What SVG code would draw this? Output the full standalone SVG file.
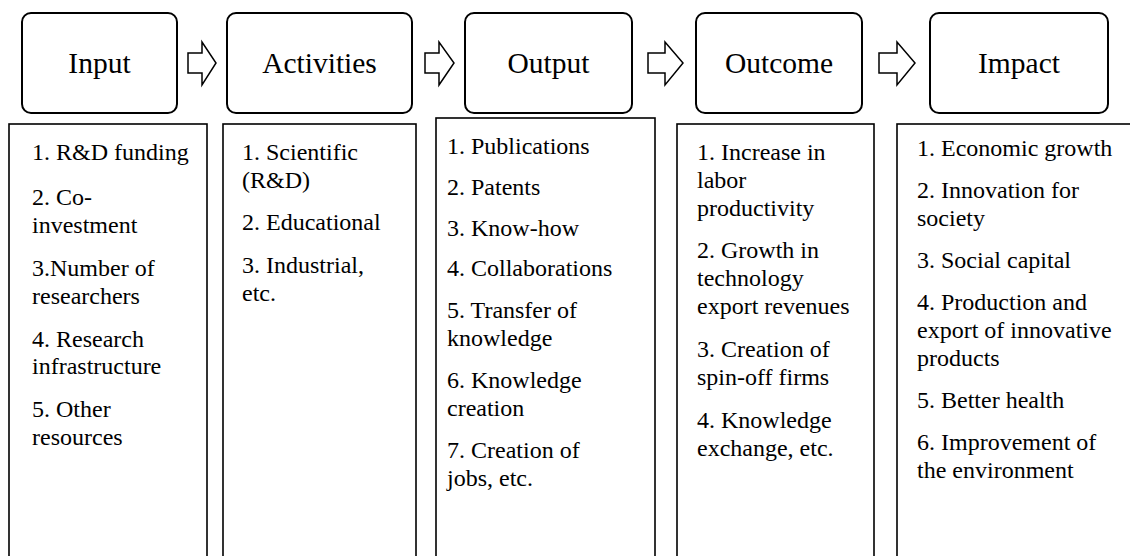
<svg xmlns="http://www.w3.org/2000/svg" width="1130" height="556" viewBox="0 0 1130 556">
<style>
.hdr{fill:#fff;stroke:#000;stroke-width:2}
.box{fill:#fff;stroke:#000;stroke-width:1.6}
.arr{fill:#fff;stroke:#000;stroke-width:1.5;stroke-linejoin:miter}
.ht{font-family:"Liberation Serif","Times New Roman",serif;font-size:29.5px;fill:#000;text-anchor:middle}
.bt{font-family:"Liberation Serif","Times New Roman",serif;font-size:24px;fill:#000}
</style>
<rect width="1130" height="556" fill="#fff"/>
<g id="connectors">
<polygon class="arr" points="188,53 202,53 202,42 216,63 202,85 202,73 188,73"/>
<polygon class="arr" points="425,53 439,53 439,42 454,63 439,85 439,73 425,73"/>
<polygon class="arr" points="648,53 665,53 665,42 683,63 665,85 665,73 648,73"/>
<polygon class="arr" points="879,53 897,53 897,42 915,63 897,85 897,73 879,73"/>
</g>
<g id="input">
<rect class="hdr" x="22" y="13" width="155" height="100" rx="9"/>
<text class="ht" x="99.5" y="73">Input</text>
<rect class="box" x="9" y="124" width="198" height="440"/>
<text class="bt" x="32"><tspan y="160">1. R&amp;D funding</tspan><tspan x="32" y="205">2. Co-</tspan><tspan x="32" y="233">investment</tspan><tspan x="32" y="276">3.Number of</tspan><tspan x="32" y="304">researchers</tspan><tspan x="32" y="347">4. Research</tspan><tspan x="32" y="374">infrastructure</tspan><tspan x="32" y="417">5. Other</tspan><tspan x="32" y="445">resources</tspan></text>
</g>
<g id="activities">
<rect class="hdr" x="227" y="13" width="185" height="100" rx="9"/>
<text class="ht" x="319.5" y="73">Activities</text>
<rect class="box" x="223" y="124" width="193" height="440"/>
<text class="bt" x="242"><tspan y="160">1. Scientific</tspan><tspan x="242" y="188">(R&amp;D)</tspan><tspan x="242" y="230">2. Educational</tspan><tspan x="242" y="273">3. Industrial,</tspan><tspan x="242" y="301">etc.</tspan></text>
</g>
<g id="output">
<rect class="hdr" x="465" y="13" width="167" height="100" rx="9"/>
<text class="ht" x="548.5" y="73">Output</text>
<rect class="box" x="436" y="118" width="219" height="446"/>
<text class="bt" x="447"><tspan y="154">1. Publications</tspan><tspan x="447" y="195">2. Patents</tspan><tspan x="447" y="236">3. Know-how</tspan><tspan x="447" y="276">4. Collaborations</tspan><tspan x="447" y="318">5. Transfer of</tspan><tspan x="447" y="346">knowledge</tspan><tspan x="447" y="388">6. Knowledge</tspan><tspan x="447" y="416">creation</tspan><tspan x="447" y="458">7. Creation of</tspan><tspan x="447" y="486">jobs, etc.</tspan></text>
</g>
<g id="outcome">
<rect class="hdr" x="696" y="13" width="166" height="100" rx="9"/>
<text class="ht" x="779" y="73">Outcome</text>
<rect class="box" x="677" y="124" width="197" height="440"/>
<text class="bt" x="697"><tspan y="160">1. Increase in</tspan><tspan x="697" y="188">labor</tspan><tspan x="697" y="216">productivity</tspan><tspan x="697" y="258">2. Growth in</tspan><tspan x="697" y="286">technology</tspan><tspan x="697" y="314">export revenues</tspan><tspan x="697" y="357">3. Creation of</tspan><tspan x="697" y="385">spin-off firms</tspan><tspan x="697" y="428">4. Knowledge</tspan><tspan x="697" y="456">exchange, etc.</tspan></text>
</g>
<g id="impact">
<rect class="hdr" x="930" y="13" width="178" height="100" rx="9"/>
<text class="ht" x="1019" y="73">Impact</text>
<rect class="box" x="897" y="124" width="240" height="440"/>
<text class="bt" x="917"><tspan y="156">1. Economic growth</tspan><tspan x="917" y="198">2. Innovation for</tspan><tspan x="917" y="226">society</tspan><tspan x="917" y="268">3. Social capital</tspan><tspan x="917" y="310">4. Production and</tspan><tspan x="917" y="338">export of innovative</tspan><tspan x="917" y="366">products</tspan><tspan x="917" y="408">5. Better health</tspan><tspan x="917" y="450">6. Improvement of</tspan><tspan x="917" y="478">the environment</tspan></text>
</g>
</svg>
